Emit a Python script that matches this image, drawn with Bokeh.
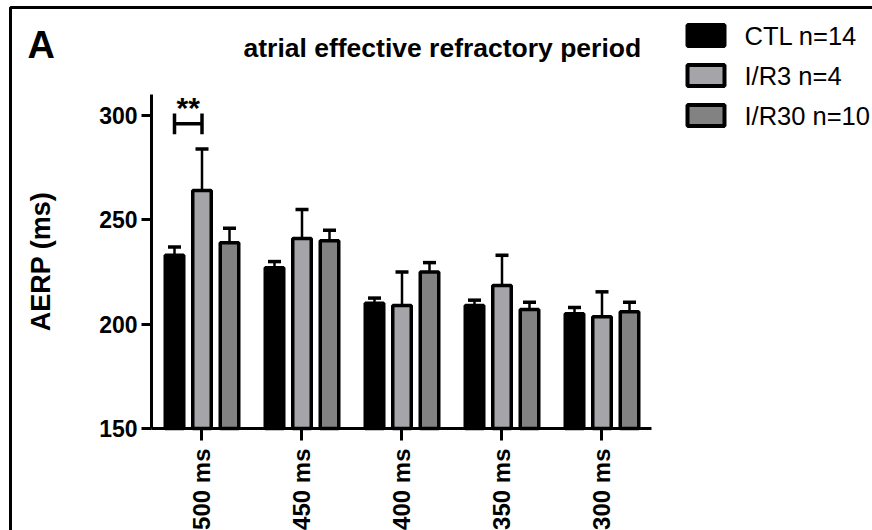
import math
from bokeh.plotting import figure
from bokeh.models import (ColumnDataSource, Range1d, Label, BoxAnnotation, FixedTicker)
from bokeh.core.properties import value
from bokeh.embed import file_html
from bokeh.resources import INLINE

# ---------------- data ----------------
categories = ["500 ms", "450 ms", "400 ms", "350 ms", "300 ms"]
group_names = ["CTL n=14", "I/R3 n=4", "I/R30 n=10"]
ctl_mean = [233, 227, 210, 209, 205]
ctl_sem = [4, 3, 2.5, 2.5, 3]
ir3_mean = [264, 241, 209, 218.5, 203.5]
ir3_sem = [20, 14, 16, 14.5, 12]
ir30_mean = [239, 240, 225, 207, 206]
ir30_sem = [7, 5, 4.5, 3.5, 4.5]
y_ticks = [150, 200, 250, 300]
sig_label = "**"

FONT = "Liberation Sans"
colors = ["#000000", "#a5a4a9", "#828282"]
offsets = [-0.27, 0.005, 0.28]
means = [ctl_mean, ir3_mean, ir30_mean]
sems = [ctl_sem, ir3_sem, ir30_sem]
pos = list(range(len(categories)))

p = figure(width=872, height=530, x_range=Range1d(-2.01, 6.71),
           y_range=Range1d(101.12, 355.11), output_backend="svg",
           toolbar_location=None, min_border=0)
p.outline_line_color = None
p.xgrid.grid_line_color = None
p.ygrid.grid_line_color = None
p.background_fill_color = "white"
p.border_fill_color = "white"

for m, s, off, col in zip(means, sems, offsets, colors):
    xs = [i + off for i in pos]
    src = ColumnDataSource(dict(x=xs, xl=[x - 0.065 for x in xs],
                                xr=[x + 0.065 for x in xs], mean=m,
                                upper=[a + b for a, b in zip(m, s)]))
    p.segment(x0="x", y0="mean", x1="x", y1="upper", source=src,
              line_color="black", line_width=2.5)
    p.segment(x0="xl", y0="upper", x1="xr", y1="upper", source=src,
              line_color="black", line_width=3.5)
    p.vbar(x="x", top="mean", bottom=150, width=0.185, source=src,
           fill_color=col, line_color="black", line_width=3.5)

# significance bracket (between CTL and I/R3 at 500 ms)
bx0, bx1 = pos[0] + offsets[0], pos[0] + offsets[1]
p.segment(x0=[bx0], y0=[296], x1=[bx1], y1=[296], line_color="black", line_width=3.5)
p.segment(x0=[bx0, bx1], y0=[291, 291], x1=[bx0, bx1], y1=[301, 301],
          line_color="black", line_width=3.5)
p.text(x=[(bx0 + bx1) / 2], y=[304], text=[sig_label], text_font=value(FONT),
       text_font_style="bold", text_font_size="30px", text_align="center",
       text_baseline="middle", text_color="black")

# axes
p.yaxis.fixed_location = -0.5
p.yaxis.bounds = (150, 310)
p.xaxis.fixed_location = 150
p.xaxis.bounds = (-0.5, 4.5)
p.yaxis.ticker = FixedTicker(ticks=y_ticks)
p.xaxis.ticker = FixedTicker(ticks=pos)
p.xaxis.major_label_overrides = {i: c for i, c in zip(pos, categories)}
p.yaxis.axis_label = "AERP (ms)"
p.yaxis.axis_label_text_font = FONT
p.yaxis.axis_label_text_font_style = "bold"
p.yaxis.axis_label_text_font_size = "27px"
p.yaxis.axis_label_text_color = "black"
p.yaxis.axis_label_standoff = 40
p.yaxis.major_label_text_font = FONT
p.yaxis.major_label_text_font_style = "bold"
p.yaxis.major_label_text_font_size = "23px"
p.yaxis.major_label_standoff = 4
p.yaxis.major_tick_out = 10
p.yaxis.major_tick_in = 0
for ax in (p.xaxis, p.yaxis):
    ax.minor_tick_line_color = None
    ax.axis_line_width = 3
    ax.axis_line_color = "black"
    ax.major_tick_line_width = 3
    ax.major_tick_line_color = "black"
    ax.major_label_text_color = "black"
p.xaxis.major_label_orientation = math.pi / 2
p.xaxis.major_label_text_font = FONT
p.xaxis.major_label_text_font_style = "bold"
p.xaxis.major_label_text_font_size = "24px"
p.xaxis.major_label_standoff = 8
p.xaxis.major_tick_out = 12
p.xaxis.major_tick_in = 0

# panel letter and title
p.add_layout(Label(x=27, y=44, x_units="canvas", y_units="canvas", text="A",
                   text_font=FONT, text_font_style="bold", text_font_size="38px",
                   text_baseline="middle", text_color="black"))
p.add_layout(Label(x=243, y=47, x_units="canvas", y_units="canvas",
                   text="atrial effective refractory period",
                   text_font=FONT, text_font_style="bold", text_font_size="26.5px",
                   text_baseline="middle", text_color="black"))

# legend
for i, (name, col) in enumerate(zip(group_names, colors)):
    yc = 35 + 40 * i
    p.add_layout(BoxAnnotation(left=687, right=724, top=yc - 10.5, bottom=yc + 10.5,
                               left_units="canvas", right_units="canvas",
                               top_units="canvas", bottom_units="canvas",
                               fill_color=col, fill_alpha=1, line_color="black",
                               line_width=4, line_alpha=1))
    p.add_layout(Label(x=744, y=yc, x_units="canvas", y_units="canvas", text=name,
                       text_font=FONT, text_font_size="25.5px",
                       text_baseline="middle", text_color="black"))

# outer frame
p.add_layout(BoxAnnotation(left=10, right=2000, top=7, bottom=2000,
                           left_units="canvas", right_units="canvas",
                           top_units="canvas", bottom_units="canvas",
                           fill_color=None, line_color="black", line_width=3,
                           line_alpha=1))

open("out.html", "w").write(file_html(p, INLINE))
